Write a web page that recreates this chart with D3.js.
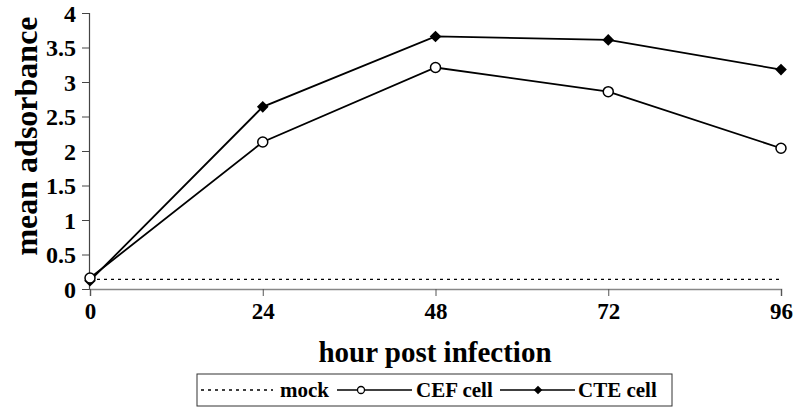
<!DOCTYPE html>
<html>
<head>
<meta charset="utf-8">
<script src="https://cdn.jsdelivr.net/npm/d3@7"></script>
<style>
  html, body { margin: 0; padding: 0; background: #fff; }
  svg { display: block; font-family: "Liberation Serif", "Times New Roman", serif; font-weight: bold; }
</style>
</head>
<body>
<svg id="chart" width="795" height="416"></svg>
<script>
const hours = [0, 24, 48, 72, 96];
const mockValues = [0.14, 0.14, 0.14, 0.14, 0.14];
const cefValues = [0.16, 2.13, 3.21, 2.86, 2.04];
const cteValues = [0.12, 2.64, 3.66, 3.61, 3.18];
const yTicks = [0, 0.5, 1, 1.5, 2, 2.5, 3, 3.5, 4];
const xTicks = [0, 24, 48, 72, 96];
const seriesNames = ["mock", "CEF cell", "CTE cell"];

const svg = d3.select("#chart");
const x = d3.scaleLinear().domain([0, 96]).range([90, 781]);
const y = d3.scaleLinear().domain([0, 4]).range([289, 13]);

// Y axis
const yAxis = svg.append("g").attr("transform", "translate(89,0)")
  .call(d3.axisLeft(y).tickValues(yTicks).tickSize(7).tickPadding(6).tickFormat(d3.format("")));
yAxis.select(".domain").attr("stroke", "#444").attr("stroke-width", 1.2);
yAxis.selectAll(".tick line").attr("stroke", "#444");
yAxis.selectAll("text").attr("font-size", 24).attr("font-family", "Liberation Serif").attr("font-weight", "bold").attr("fill", "#000").attr("dy", "0.34em");

// X axis
const xAxis = svg.append("g").attr("transform", "translate(0,289)")
  .call(d3.axisBottom(x).tickValues(xTicks).tickSize(7).tickSizeOuter(7).tickPadding(7));
xAxis.select(".domain").attr("stroke", "#888").attr("stroke-width", 1.6);
xAxis.selectAll(".tick line").attr("stroke", "#555");
xAxis.selectAll("text").attr("font-size", 23).attr("font-family", "Liberation Serif").attr("font-weight", "bold").attr("fill", "#000");

// Titles
svg.append("text").attr("x", 435).attr("y", 362).attr("text-anchor", "middle")
  .attr("font-size", 29).text("hour post infection");
svg.append("text").attr("transform", "translate(37,136) rotate(-90)").attr("text-anchor", "middle")
  .attr("font-size", 32).text("mean adsorbance");

const line = d3.line().x((d, i) => x(hours[i])).y(d => y(d));

// mock
svg.append("path").datum(mockValues).attr("d", line)
  .attr("fill", "none").attr("stroke", "#000").attr("stroke-width", 1.3).attr("stroke-dasharray", "3,4");

// CEF
svg.append("path").datum(cefValues).attr("d", line)
  .attr("fill", "none").attr("stroke", "#000").attr("stroke-width", 1.8);
// CTE
svg.append("path").datum(cteValues).attr("d", line)
  .attr("fill", "none").attr("stroke", "#000").attr("stroke-width", 1.8);

svg.selectAll(".cte").data(cteValues).enter().append("path")
  .attr("d", d3.symbol().type(d3.symbolSquare).size(68)())
  .attr("transform", (d, i) => `translate(${x(hours[i])},${y(d)}) rotate(45)`)
  .attr("fill", "#000");
svg.selectAll(".cef").data(cefValues).enter().append("circle")
  .attr("cx", (d, i) => x(hours[i])).attr("cy", d => y(d)).attr("r", 5)
  .attr("fill", "#fff").attr("stroke", "#000").attr("stroke-width", 1.5);

// Legend
const lg = svg.append("g");
lg.append("rect").attr("x", 197).attr("y", 374).attr("width", 475).attr("height", 32)
  .attr("fill", "#fff").attr("stroke", "#333").attr("stroke-width", 1);
const ly = 390;
lg.append("line").attr("x1", 201).attr("x2", 273).attr("y1", ly).attr("y2", ly)
  .attr("stroke", "#000").attr("stroke-width", 1.3).attr("stroke-dasharray", "3,4");
lg.append("text").attr("x", 280).attr("y", ly + 7).attr("font-size", 21).text(seriesNames[0]);
lg.append("line").attr("x1", 337).attr("x2", 412).attr("y1", ly).attr("y2", ly)
  .attr("stroke", "#000").attr("stroke-width", 1.5);
lg.append("circle").attr("cx", 361).attr("cy", ly).attr("r", 3.5)
  .attr("fill", "#fff").attr("stroke", "#000").attr("stroke-width", 1.3);
lg.append("text").attr("x", 416).attr("y", ly + 7).attr("font-size", 21).text(seriesNames[1]);
lg.append("line").attr("x1", 500).attr("x2", 575).attr("y1", ly).attr("y2", ly)
  .attr("stroke", "#000").attr("stroke-width", 1.5);
lg.append("path").attr("d", d3.symbol().type(d3.symbolSquare).size(36)())
  .attr("transform", `translate(538,${ly}) rotate(45)`).attr("fill", "#000");
lg.append("text").attr("x", 578).attr("y", ly + 7).attr("font-size", 21).text(seriesNames[2]);
</script>
</body>
</html>
